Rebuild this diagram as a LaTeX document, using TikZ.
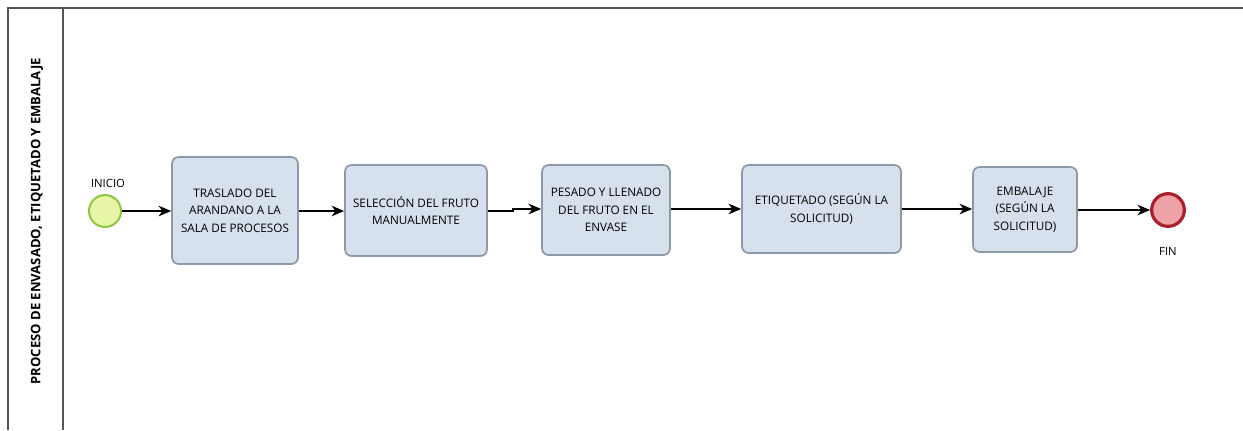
\documentclass[tikz,border=0pt]{standalone}
\usepackage{fontspec}
\setmainfont{Open Sans}
\usetikzlibrary{arrows.meta}
\definecolor{boxfill}{HTML}{D7E1ED}
\definecolor{boxdraw}{HTML}{8C99A6}
\definecolor{startfill}{HTML}{E6F6A6}
\definecolor{startdraw}{HTML}{8DC63F}
\definecolor{endfill}{HTML}{EEA3A9}
\definecolor{enddraw}{HTML}{A8202A}
\definecolor{lanedraw}{HTML}{555555}
\begin{document}
\begin{tikzpicture}[x=0.75pt,y=-0.75pt,
  task/.style={draw=boxdraw,fill=boxfill,line width=1.3pt,rounded corners=5pt,
    align=center,inner sep=0pt,font=\fontsize{8.8}{13}\selectfont},
  flow/.style={line width=0.8pt,-{Stealth[length=9.5pt,width=8pt,inset=3pt]}},
  lbl/.style={font=\fontsize{8.5}{10}\selectfont,inner sep=0pt}]
\useasboundingbox (0,0) rectangle (1243,430);
% pool and lane
\draw[lanedraw,line width=0.9pt] (8,430) -- (8,8) -- (1243,8);
\draw[lanedraw,line width=0.9pt] (63,8) -- (63,430);
\node[rotate=90,font=\bfseries\fontsize{9.8}{12}\selectfont,inner sep=0pt] (title) at (37,221)
  {PROCESO DE ENVASADO, ETIQUETADO Y EMBALAJE};
% events
\node[circle,draw=startdraw,fill=startfill,line width=1.5pt,minimum size=24pt,inner sep=0pt] (start) at (105,211) {};
\node[lbl] (startlbl) at (108,183) {INICIO};
\node[circle,draw=enddraw,fill=endfill,line width=2.4pt,minimum size=24.5pt,inner sep=0pt] (end) at (1168,210) {};
\node[lbl] (endlbl) at (1168,251) {FIN};
% tasks
\node[task,minimum width=126*0.75pt,minimum height=107*0.75pt] (t1) at (235,210.5)
  {TRASLADO DEL\\ARANDANO A LA\\SALA DE PROCESOS};
\node[task,minimum width=142*0.75pt,minimum height=91*0.75pt] (t2) at (416,210.5)
  {SELECCIÓN DEL FRUTO\\MANUALMENTE};
\node[task,minimum width=128*0.75pt,minimum height=90*0.75pt] (t3) at (606,210)
  {PESADO Y LLENADO\\DEL FRUTO EN EL\\ENVASE};
\node[task,minimum width=159*0.75pt,minimum height=88*0.75pt] (t4) at (821.5,209)
  {ETIQUETADO (SEGÚN LA\\SOLICITUD)};
\node[task,minimum width=104*0.75pt,minimum height=85*0.75pt] (t5) at (1025,209.5)
  {EMBALAJE\\(SEGÚN LA\\SOLICITUD)};
% flows
\draw[flow] (start) -- (t1.west|-start);
\draw[flow] (t1.east|-0,211) -- (t2.west|-0,211);
\coordinate (jog) at (513,211);
\draw[flow] (t2.east|-jog) -- (jog) -- ++(0,-2) -- (t3.west|-0,209);
\draw[flow] (t3.east|-0,209) -- (t4.west|-0,209);
\draw[flow] (t4.east|-0,209) -- (t5.west|-0,209);
\draw[flow] (t5.east|-end) -- (end);
\end{tikzpicture}
\end{document}
